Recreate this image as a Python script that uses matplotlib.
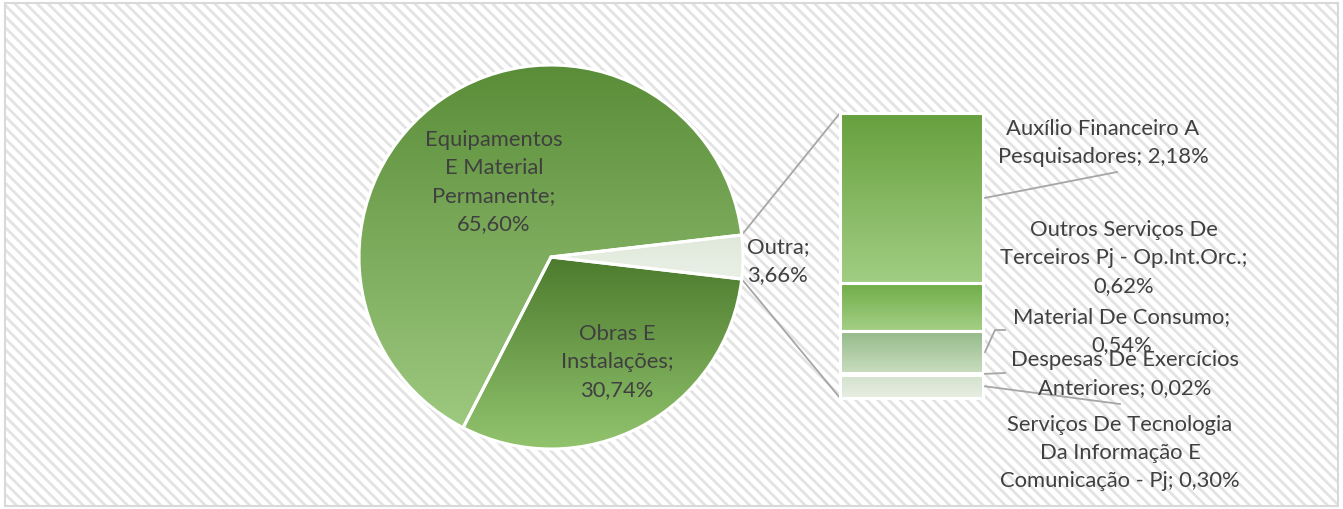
import numpy as np
import matplotlib
matplotlib.use("Agg")
import matplotlib.pyplot as plt
from matplotlib.patches import Rectangle
from matplotlib.colors import LinearSegmentedColormap

plt.rcParams["font.family"] = ["Lato", "DejaVu Sans"]
plt.rcParams["hatch.linewidth"] = 2.0

# Data (percent of total)
pie_labels = ["Equipamentos\nE Material\nPermanente", "Obras E\nInstalações", "Outra"]
pie_values = [65.60, 30.74, 3.66]

bar_labels = ["Serviços De Tecnologia\nDa Informação E\nComunicação - Pj",
              "Despesas De Exercícios\nAnteriores",
              "Material De Consumo",
              "Outros Serviços De\nTerceiros Pj - Op.Int.Orc.",
              "Auxílio Financeiro A\nPesquisadores"]
bar_values = [0.30, 0.02, 0.54, 0.62, 2.18]

pie_grad = [("#5a8d38", "#9ec980"), ("#4c7b2d", "#92c46e"), ("#dfe8da", "#eaf0e6")]
bar_grad = [("#d3e1cc", "#e7eee3"), ("#d3e1cc", "#e7eee3"), ("#93b989", "#c9ddbf"),
            ("#6fac46", "#a4d087"), ("#67a03e", "#a1ce83")]

W, H = 1343, 509
fig = plt.figure(figsize=(W / 100, H / 100), dpi=100)
fig.patches.append(Rectangle((5 / W, 3 / H), 1333 / W, 503 / H, transform=fig.transFigure,
                             facecolor="white", edgecolor="#e3e3e3", hatch="\\" * 3,
                             linewidth=0, zorder=-2))
fig.patches.append(Rectangle((5 / W, 3 / H), 1333 / W, 503 / H, transform=fig.transFigure,
                             facecolor="none", edgecolor="#d9d9d9", linewidth=1.5, zorder=-1))

ax = fig.add_axes([0, 0, 1, 1])
ax.set_zorder(2)
ax.patch.set_alpha(0)


def grad_fill(patch, c_top, c_bot, z):
    ext = patch.get_path().get_extents(patch.get_patch_transform())
    cmap = LinearSegmentedColormap.from_list("g", [c_bot, c_top])
    g = np.linspace(0, 1, 256).reshape(-1, 1)
    im = ax.imshow(g, extent=[ext.x0, ext.x1, ext.y0, ext.y1], origin="lower", cmap=cmap,
                   aspect="auto", zorder=z, interpolation="bilinear")
    im.set_clip_path(patch)
    patch.set_facecolor("none")
    patch.set_zorder(z + 0.5)


cx, cy, R = 551, 252, 192
start = pie_values[2] * 3.6 / 2
wedges, _ = ax.pie(pie_values, startangle=start, counterclock=True, center=(cx, cy), radius=R,
                   explode=[0, 0, 0.01], wedgeprops=dict(edgecolor="white", linewidth=2.2),
                   frame=True)
for w, (ct, cb) in zip(wedges, pie_grad):
    grad_fill(w, ct, cb, 2)

# stacked bar for "Outra"
bx, bw, by, bh = 840, 143, 111, 285
scale = bh / sum(bar_values)
bottoms = np.concatenate([[0], np.cumsum(bar_values)[:-1]]) * scale + by
bars = ax.bar([bx + bw / 2] * len(bar_values), np.array(bar_values) * scale, width=bw,
              bottom=bottoms, edgecolor="white", linewidth=2.2)
for b, (ct, cb) in zip(bars, bar_grad):
    grad_fill(b, ct, cb, 2)

ax.set_xlim(0, W)
ax.set_ylim(0, H)
ax.set_aspect("auto")
ax.axis("off")

# connector lines
a = np.deg2rad(start)
ax.plot([cx + R * np.cos(a), bx], [cy + R * np.sin(a), by + bh], color="#a6a6a6", lw=1.3, zorder=1)
ax.plot([cx + R * np.cos(a), bx], [cy - R * np.sin(a), by], color="#a6a6a6", lw=1.3, zorder=1)

tc = "#404040"
fs = 15.8
ls = 1.5


def pct(v):
    return f"{v:.2f}%".replace(".", ",")


ax.text(494, 327, pie_labels[0] + ";\n" + pct(pie_values[0]),
        ha="center", va="center", fontsize=fs, color=tc, zorder=5, linespacing=ls)
ax.text(617, 147, pie_labels[1] + ";\n" + pct(pie_values[1]),
        ha="center", va="center", fontsize=fs, color=tc, zorder=5, linespacing=ls)
ax.text(747, 248, pie_labels[2] + ";\n" + pct(pie_values[2]),
        ha="left", va="center", fontsize=fs, color=tc, zorder=5, linespacing=ls)

# bar labels: (text x, text y, leader points)
mids = bottoms + np.array(bar_values) * scale / 2
right = bx + bw + 2
lab_pos = [(1120, 56, [(right, mids[0]), (1120, 105)]),
           (1125, 135, [(right, mids[1]), (1005, 136)]),
           (1122, 178, [(right, mids[2]), (995, 179), (1005, 179)]),
           (1124, 251, None),
           (1103, 366, [(right, mids[4]), (1117, 337)])]
for lab, v, (tx, ty, lead) in zip(bar_labels, bar_values, lab_pos):
    s = lab + "; " + pct(v)
    if lab.startswith("Outros") or lab.startswith("Material"):
        s = lab + ";\n" + pct(v)
    ax.text(tx, ty, s, ha="center", va="center", fontsize=fs, color=tc, zorder=5, linespacing=ls)
    if lead:
        xs, ys = zip(*lead)
        ax.plot(xs, ys, color="#a6a6a6", lw=1.3, zorder=4)

fig.savefig("out.png", dpi=100)
